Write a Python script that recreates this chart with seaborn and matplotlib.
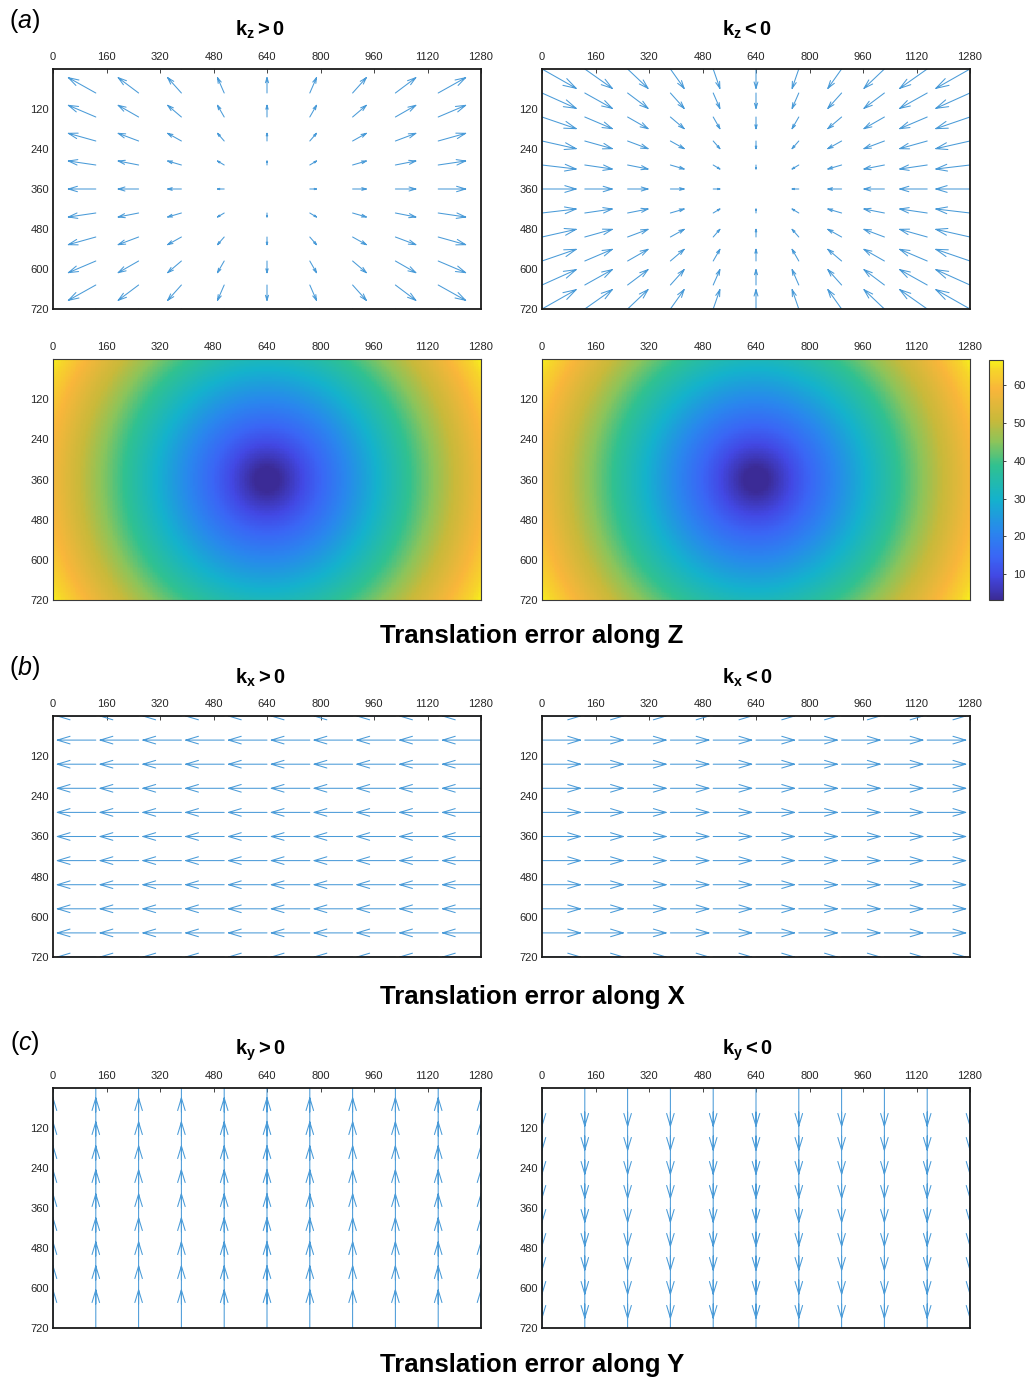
import numpy as np
import pandas as pd
import matplotlib
matplotlib.use('Agg')
import matplotlib.pyplot as plt
from matplotlib.colors import LinearSegmentedColormap
import seaborn as sns

# quiver grid (image pixel coordinates of the arrow tails)
grid_x = [0, 128, 256, 384, 512, 640, 768, 896, 1024, 1152, 1280]
grid_y = [0, 72, 144, 216, 288, 360, 432, 504, 576, 648, 720]

# arrow components (pixels): u per column, v per row
kz_pos_u = [-102, -82, -61, -41, -20, 0, 20, 41, 61, 82, 102]
kz_pos_v = [-58, -46, -35, -23, -12, 0, 12, 23, 35, 46, 58]
kz_neg_u = [102, 82, 61, 41, 20, 0, -20, -41, -61, -82, -102]
kz_neg_v = [58, 46, 35, 23, 12, 0, -12, -23, -35, -46, -58]
kx_pos_u = [-115] * 11
kx_neg_u = [115] * 11
ky_pos_v = [-114] * 11
ky_neg_v = [114] * 11
no_shift = [0] * 11

# error magnitude maps (colorbar range)
err_center = (640, 360)
err_corner = 66.6
err_min = 3.2
cbar_ticks = [10, 20, 30, 40, 50, 60]

xtick_vals = [0, 160, 320, 480, 640, 800, 960, 1120, 1280]
ytick_vals = [120, 240, 360, 480, 600, 720]

W, H = 1025, 1378
ARROW = '#4a9bd8'
TICKC = '#262626'

sns.set_theme(style='white')
plt.rcParams['font.family'] = ['Liberation Sans', 'DejaVu Sans']
plt.rcParams['mathtext.fontset'] = 'custom'
plt.rcParams['mathtext.rm'] = 'Liberation Sans'
plt.rcParams['mathtext.it'] = 'Liberation Sans:italic'
plt.rcParams['mathtext.bf'] = 'Liberation Sans:bold'

# parula-like colormap
parula = LinearSegmentedColormap.from_list('parula', [
    (0.00, '#3b2b96'), (0.10, '#4248e4'), (0.18, '#3a66f5'),
    (0.28, '#2a85ee'), (0.42, '#14b2cc'), (0.56, '#30c190'),
    (0.66, '#8cc45a'), (0.75, '#c8b93a'), (0.88, '#f9b63a'),
    (0.96, '#f6d52a'), (1.00, '#f7f01c')])


def box(left, top, right, bottom):
    return [left / W, 1 - bottom / H, (right - left) / W, (bottom - top) / H]


def ftext(x, y, s, **kw):
    fig.text(x / W, 1 - y / H, s, ha='center', va='center', color='black', **kw)


def style_axes(ax, scale=1.0, ticklen=3):
    ax.set_xticks([v / scale for v in xtick_vals])
    ax.set_xticklabels([str(v) for v in xtick_vals])
    ax.set_yticks([v / scale for v in ytick_vals])
    ax.set_yticklabels([str(v) for v in ytick_vals], rotation=0)
    ax.xaxis.tick_top()
    ax.tick_params(axis='x', direction='in', length=ticklen, width=0.6,
                   labelsize=8, color=TICKC, labelcolor=TICKC, pad=5)
    ax.tick_params(axis='y', direction='in', length=ticklen, width=0.6,
                   labelsize=8, color=TICKC, labelcolor=TICKC, pad=3)
    ax.set_xlabel('')
    ax.set_ylabel('')


def draw_quiver(ax, u_col, v_row, a=0.33, b=0.3):
    X, Y = np.meshgrid(np.array(grid_x, float), np.array(grid_y, float))
    U = np.broadcast_to(np.array(u_col, float)[None, :], X.shape)
    V = np.broadcast_to(np.array(v_row, float)[:, None], X.shape)
    keep = (U != 0) | (V != 0)
    x, y, u, v = X[keep], Y[keep], U[keep], V[keep]
    nan = np.full_like(x, np.nan)
    tx, ty = x + u, y + v
    xs = np.column_stack([x, tx, nan, tx - a * (u + b * v), tx, tx - a * (u - b * v), nan])
    ys = np.column_stack([y, ty, nan, ty - a * (v - b * u), ty, ty - a * (v + b * u), nan])
    ax.plot(xs.ravel(), ys.ravel(), color=ARROW, lw=0.75)
    ax.set_xlim(0, 1280)
    ax.set_ylim(720, 0)
    style_axes(ax)
    for sp in ax.spines.values():
        sp.set_visible(True)
        sp.set_color('#1a1a1a')
        sp.set_linewidth(1.3)


fig = plt.figure(figsize=(W / 100, H / 100), dpi=100)
fig.patch.set_facecolor('white')

L1, R1 = 53, 481
L2, R2 = 542, 970

# (a) quiver row
draw_quiver(fig.add_axes(box(L1, 69, R1, 309)), kz_pos_u, kz_pos_v)
draw_quiver(fig.add_axes(box(L2, 69, R2, 309)), kz_neg_u, kz_neg_v)

# (a) error maps
cell = 5
cx = np.arange(cell / 2, 1280, cell)
cy = np.arange(cell / 2, 720, cell)
MX, MY = np.meshgrid(cx, cy)
r_max = np.hypot(err_center[0], err_center[1])
err = np.hypot(MX - err_center[0], MY - err_center[1]) / r_max * err_corner
df_err = pd.DataFrame(err)

cax = fig.add_axes(box(989, 360, 1003, 600))
for left, right, with_cbar in [(L1, R1, False), (L2, R2, True)]:
    ax = fig.add_axes(box(left, 359, right, 600))
    sns.heatmap(df_err, ax=ax, cmap=parula, vmin=err_min, vmax=err_corner,
                cbar=with_cbar, cbar_ax=cax if with_cbar else None,
                xticklabels=False, yticklabels=False, rasterized=True)
    style_axes(ax, scale=cell, ticklen=0)
    for sp in ax.spines.values():
        sp.set_visible(True)
        sp.set_color('#3a3a3a')
        sp.set_linewidth(0.8)
    if with_cbar:
        cb = ax.collections[0].colorbar
        cb.set_ticks(cbar_ticks)
        cb.outline.set_edgecolor('#3a3a3a')
        cb.outline.set_linewidth(0.8)
        cax.tick_params(direction='out', length=2.5, width=0.6, labelsize=8,
                        color=TICKC, labelcolor=TICKC, pad=5)

# (b) translation along X
draw_quiver(fig.add_axes(box(L1, 716, R1, 957)), kx_pos_u, no_shift)
draw_quiver(fig.add_axes(box(L2, 716, R2, 957)), kx_neg_u, no_shift)

# (c) translation along Y
draw_quiver(fig.add_axes(box(L1, 1088, R1, 1328)), no_shift, ky_pos_v)
draw_quiver(fig.add_axes(box(L2, 1088, R2, 1328)), no_shift, ky_neg_v)

# labels and titles
ftext(25, 21, r'($\mathit{a}$)', fontsize=18)
ftext(25, 668, r'($\mathit{b}$)', fontsize=18)
ftext(25, 1043, r'($\mathit{c}$)', fontsize=18)

ftext(260, 30, r'$\mathbf{k_z > 0}$', fontsize=14.5)
ftext(747, 30, r'$\mathbf{k_z < 0}$', fontsize=14.5)
ftext(260, 678, r'$\mathbf{k_x > 0}$', fontsize=14.5)
ftext(747, 678, r'$\mathbf{k_x < 0}$', fontsize=14.5)
ftext(260, 1050, r'$\mathbf{k_y > 0}$', fontsize=14.5)
ftext(747, 1050, r'$\mathbf{k_y < 0}$', fontsize=14.5)

ftext(532, 636, 'Translation error along Z', fontsize=18.5, fontweight='bold')
ftext(532, 997, 'Translation error along X', fontsize=18.5, fontweight='bold')
ftext(532, 1365, 'Translation error along Y', fontsize=18.5, fontweight='bold')

fig.savefig('out.png', dpi=100)
